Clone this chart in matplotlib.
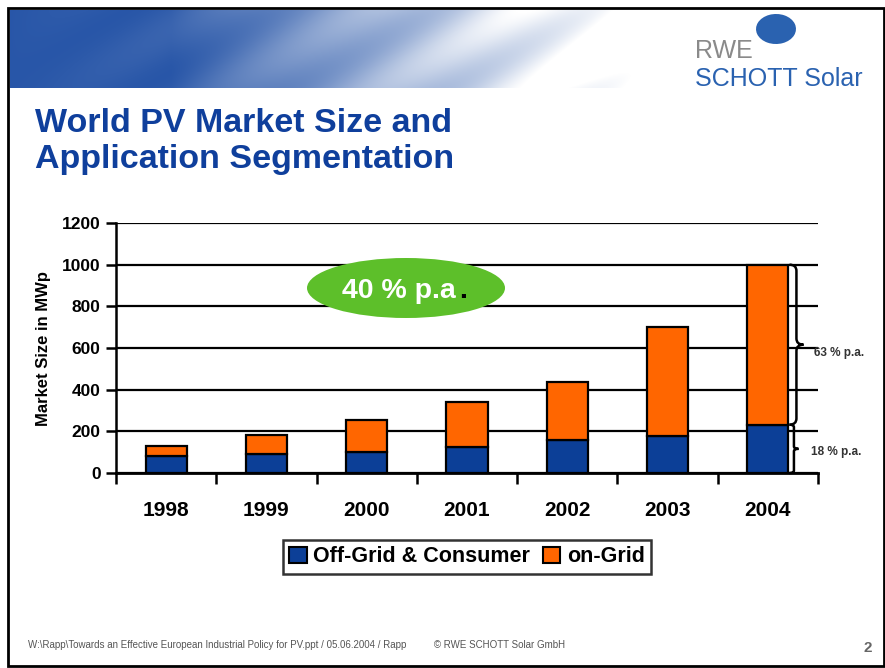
import numpy as np
import matplotlib.pyplot as plt
from matplotlib.patches import Ellipse, Rectangle, PathPatch
from matplotlib.path import Path

plt.rcParams['font.family'] = ['Liberation Sans', 'DejaVu Sans']

years = ['1998', '1999', '2000', '2001', '2002', '2003', '2004']
off_grid = [80, 93, 102, 125, 158, 180, 232]
on_grid = [52, 90, 152, 215, 277, 520, 768]
yticks = [0, 200, 400, 600, 800, 1000, 1200]

blue = '#0c3f97'
orange = '#ff6600'
title_blue = '#0f3f9c'

W, H = 885, 668
fig = plt.figure(figsize=(W / 100, H / 100), dpi=100)

def fx(px):
    return px / W

def fy(py):
    return 1 - py / H

# slide frame
fig.patches.append(Rectangle((fx(8), fy(666)), fx(876), 658 / H, transform=fig.transFigure,
                             fill=False, edgecolor='black', linewidth=2))

# header banner (blue gradient)
bax = fig.add_axes([fx(10), fy(88), fx(690), 78 / H])
gx = np.linspace(0, 1, 690)
gy = np.linspace(0, 1, 78)
X, Y = np.meshgrid(gx, gy)
base = np.clip(1.35 - 1.5 * X, 0, 1)
streak = 0.25 * (np.sin((X * 9 + Y * 1.8) * 3.1) + 1) * np.clip(X * 1.4, 0, 1)
amt = np.clip(base - streak * 0.5, 0, 1)
c0 = np.array([0.16, 0.34, 0.66])
img = (1 - amt[..., None]) * 1.0 + amt[..., None] * c0
bax.imshow(img, aspect='auto')
bax.axis('off')

# logo
fig.patches.append(Ellipse((fx(776), fy(29)), fx(40), 30 / H, angle=20,
                           transform=fig.transFigure, facecolor='#2a62b0', edgecolor='none'))
fig.text(fx(695), fy(58), 'RWE', color='#8a8a8a', fontsize=18, ha='left', va='baseline')
fig.text(fx(695), fy(86), 'SCHOTT Solar', color='#2a62b0', fontsize=18,
         ha='left', va='baseline')

# title
fig.text(fx(35), fy(132), 'World PV Market Size and', color=title_blue, fontsize=24.5,
         fontweight='bold', ha='left', va='baseline')
fig.text(fx(35), fy(168), 'Application Segmentation', color=title_blue, fontsize=24.5,
         fontweight='bold', ha='left', va='baseline')

# chart
ax = fig.add_axes([fx(116), fy(473), fx(702), 250 / H])
x = np.arange(len(years))
ax.bar(x, off_grid, width=0.41, color=blue, edgecolor='black', linewidth=1.6, zorder=3)
ax.bar(x, on_grid, width=0.41, bottom=off_grid, color=orange, edgecolor='black',
       linewidth=1.6, zorder=3)
ax.set_xlim(-0.5, len(years) - 0.5)
ax.set_ylim(0, 1200)
ax.set_yticks(yticks)
ax.set_yticklabels([str(v) for v in yticks], fontsize=12.5, fontweight='bold')
ax.set_xticks(x)
ax.set_xticklabels(years, fontsize=15, fontweight='bold')
ax.set_xticks(np.arange(-0.5, len(years)), minor=True)
ax.tick_params(axis='x', which='major', length=0, pad=20)
ax.tick_params(axis='x', which='minor', length=8, width=1.8, direction='out')
ax.tick_params(axis='y', length=7, width=1.8, pad=4)
ax.yaxis.grid(True, color='black', linewidth=1.6, zorder=1)
ax.set_axisbelow(True)
for s in ['top', 'right']:
    ax.spines[s].set_visible(False)
ax.spines['left'].set_linewidth(1.8)
ax.spines['bottom'].set_linewidth(2)
ax.set_ylabel('Market Size in MWp', fontsize=12, fontweight='bold', labelpad=8)

# growth ellipse
fig.patches.append(Ellipse((fx(406), fy(288)), fx(198), 60 / H, transform=fig.transFigure,
                           facecolor='#5dbf2a', edgecolor='none', zorder=5))
fig.text(fx(342), fy(298), '40 % p.a', color='white', fontsize=20.5, fontweight='bold',
         ha='left', va='baseline', zorder=6)
fig.text(fx(459), fy(298), '.', color='black', fontsize=20.5, fontweight='bold',
         ha='left', va='baseline', zorder=6)

# braces for 2004
def brace(y0, y1, xb, w, d):
    ym = (y0 + y1) / 2
    xm = xb + w / 2
    verts = [(xb, y1), (xm, y1), (xm, y1 - d), (xm, ym + d), (xm, ym), (xb + w, ym),
             (xm, ym), (xm, ym - d), (xm, y0 + d), (xm, y0), (xb, y0)]
    codes = [Path.MOVETO, Path.CURVE3, Path.CURVE3, Path.LINETO, Path.CURVE3, Path.CURVE3,
             Path.CURVE3, Path.CURVE3, Path.LINETO, Path.CURVE3, Path.CURVE3]
    ax.add_patch(PathPatch(Path(verts, codes), fill=False, edgecolor='black', linewidth=1.8,
                           clip_on=False, zorder=4))

i = len(years) - 1
total = off_grid[i] + on_grid[i]
brace(off_grid[i], total, i + 0.215, 0.14, 30)
brace(0, off_grid[i], i + 0.215, 0.09, 12)
ax.text(i + 0.46, (off_grid[i] + total) / 2 - 38, '63 % p.a.', fontsize=8.5,
        fontweight='bold', color='#333333', ha='left', va='center')
ax.text(i + 0.43, off_grid[i] / 2 - 15, '18 % p.a.', fontsize=8.5,
        fontweight='bold', color='#333333', ha='left', va='center')

# legend
h1 = Rectangle((0, 0), 1, 1, facecolor=blue, edgecolor='black', linewidth=1.5)
h2 = Rectangle((0, 0), 1, 1, facecolor=orange, edgecolor='black', linewidth=1.5)
leg = fig.legend([h1, h2], ['Off-Grid & Consumer', 'on-Grid'], loc='center',
                 bbox_to_anchor=(fx(467), fy(557)), ncol=2, frameon=True, fancybox=False,
                 shadow=False, prop={'weight': 'bold', 'size': 15.5}, handlelength=0.8,
                 handleheight=0.8, handletextpad=0.3, columnspacing=0.6,
                 borderpad=0.3, edgecolor='black')
leg.get_frame().set_linewidth(1.8)

# footer
fig.text(fx(28), fy(645), 'W:\\Rapp\\Towards an Effective European Industrial Policy for PV.ppt / 05.06.2004 / Rapp          \u00a9 RWE SCHOTT Solar GmbH',
         fontsize=7, color='#555555', ha='left', va='center')
fig.text(fx(872), fy(648), '2', fontsize=11, fontweight='bold', color='#666666',
         ha='right', va='center')

fig.savefig('out.png', dpi=100)
